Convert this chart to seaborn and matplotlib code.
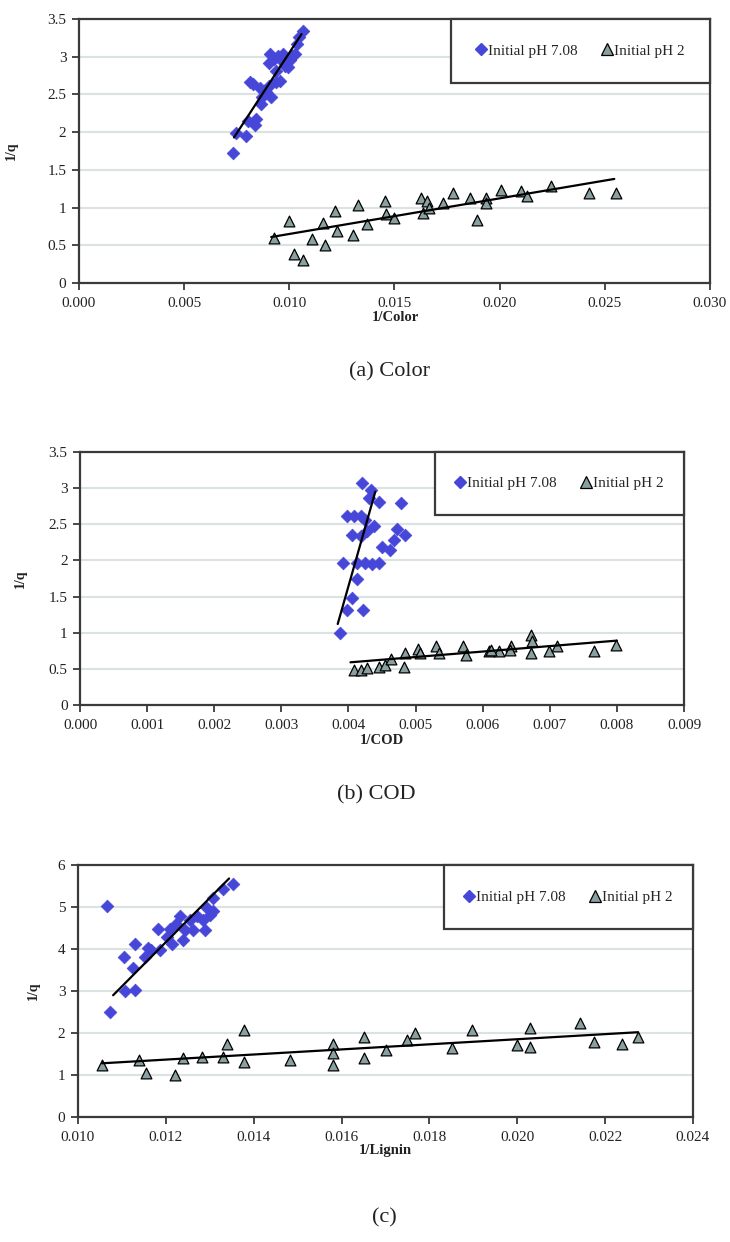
import numpy as np
import pandas as pd
import matplotlib
matplotlib.use("Agg")
import matplotlib.pyplot as plt
import seaborn as sns
from matplotlib.lines import Line2D
from matplotlib.patches import Rectangle

# ---------------- data ----------------
# (a) Color
a_hi_x = [0.0073, 0.00748, 0.00792, 0.00803, 0.00814, 0.00825, 0.00836, 0.00843, 0.00859, 0.00865,
          0.0088, 0.00903, 0.00914, 0.00903, 0.0091, 0.00925, 0.00936, 0.00947, 0.00958, 0.0097,
          0.0098, 0.00992, 0.01003, 0.01014, 0.01025, 0.01036, 0.01047, 0.01063, 0.00954, 0.00936,
          0.0089, 0.0087]
a_hi_y = [1.73, 1.99, 1.95, 2.15, 2.66, 2.64, 2.10, 2.17, 2.59, 2.37,
          2.55, 2.61, 2.46, 2.92, 3.03, 2.97, 2.81, 3.01, 2.97, 3.03,
          2.88, 2.86, 2.95, 3.01, 3.03, 3.17, 3.26, 3.34, 2.68, 2.66,
          2.53, 2.46]
a_lo_x = [0.00925, 0.00998, 0.0102, 0.01065, 0.0111, 0.01158, 0.0117, 0.01218, 0.01225, 0.01305,
          0.01325, 0.0137, 0.01453, 0.01458, 0.01498, 0.01624, 0.01635, 0.01653, 0.01664, 0.01731,
          0.0178, 0.01857, 0.0189, 0.01935, 0.01935, 0.02006, 0.02101, 0.0213, 0.02245, 0.02427,
          0.02552]
a_lo_y = [0.60, 0.82, 0.38, 0.31, 0.58, 0.80, 0.51, 0.95, 0.69, 0.64,
          1.04, 0.78, 1.09, 0.91, 0.86, 1.13, 0.93, 1.09, 1.00, 1.06,
          1.20, 1.13, 0.84, 1.13, 1.06, 1.24, 1.22, 1.15, 1.28, 1.20,
          1.20]
a_fit_hi_x = [0.00737, 0.01058]
a_fit_hi_y = [1.93, 3.30]
a_fit_lo_x = [0.00914, 0.02545]
a_fit_lo_y = [0.61, 1.38]

# (b) COD
b_hi_x = [0.004204, 0.004339, 0.004303, 0.004452, 0.004786, 0.00398, 0.00408, 0.00418, 0.00425, 0.00438,
          0.00406, 0.00418, 0.00428, 0.00473, 0.00484, 0.00468, 0.0045, 0.00462, 0.00392, 0.00413,
          0.00425, 0.00435, 0.00446, 0.00412, 0.00406, 0.00398, 0.00422, 0.00388]
b_hi_y = [3.07, 2.97, 2.86, 2.81, 2.79, 2.61, 2.61, 2.61, 2.56, 2.47,
          2.35, 2.34, 2.40, 2.44, 2.35, 2.28, 2.19, 2.15, 1.97, 1.96,
          1.96, 1.95, 1.97, 1.74, 1.48, 1.31, 1.31, 1.00]
b_lo_x = [0.00408, 0.00418, 0.00428, 0.00445, 0.00455, 0.00463, 0.00483, 0.00485, 0.00503, 0.00507,
          0.0053, 0.00535, 0.0057, 0.00575, 0.00609, 0.00624, 0.00642, 0.00672, 0.00674, 0.00672,
          0.00699, 0.00711, 0.00766, 0.00799, 0.0064, 0.00612]
b_lo_y = [0.49, 0.49, 0.51, 0.53, 0.55, 0.63, 0.53, 0.72, 0.78, 0.72,
          0.81, 0.72, 0.82, 0.69, 0.74, 0.74, 0.82, 0.97, 0.88, 0.72,
          0.74, 0.81, 0.74, 0.83, 0.76, 0.76]
b_fit_hi_x = [0.00384, 0.00440]
b_fit_hi_y = [1.12, 2.95]
b_fit_lo_x = [0.00403, 0.00800]
b_fit_lo_y = [0.59, 0.89]

# (c) Lignin
c_hi_x = [0.01065, 0.01073, 0.01107, 0.0113, 0.01105, 0.0113, 0.01126, 0.01152, 0.01167, 0.01183,
          0.01186, 0.01209, 0.01213, 0.01202, 0.01232, 0.0124, 0.01243, 0.01262, 0.0127, 0.01285,
          0.01292, 0.013, 0.01308, 0.01308, 0.0133, 0.01353, 0.01289, 0.01255, 0.0116, 0.01224]
c_hi_y = [5.02, 2.51, 3.01, 3.02, 3.80, 4.12, 3.54, 3.82, 3.98, 4.47,
          3.98, 4.47, 4.12, 4.29, 4.79, 4.21, 4.45, 4.45, 4.79, 4.69,
          5.01, 4.81, 4.91, 5.21, 5.42, 5.56, 4.45, 4.69, 4.02, 4.60]
c_lo_x = [0.01055, 0.01139, 0.01156, 0.01221, 0.0124, 0.01283, 0.0133, 0.01339, 0.01377, 0.01377,
          0.01483, 0.01581, 0.01581, 0.01581, 0.0165, 0.0165, 0.01702, 0.01749, 0.01768, 0.01851,
          0.01898, 0.0200, 0.02029, 0.02029, 0.02143, 0.02175, 0.02238, 0.02275]
c_lo_y = [1.24, 1.36, 1.06, 1.00, 1.40, 1.44, 1.44, 1.74, 2.07, 1.32,
          1.36, 1.75, 1.52, 1.24, 1.91, 1.40, 1.60, 1.83, 2.01, 1.64,
          2.07, 1.71, 2.11, 1.66, 2.23, 1.79, 1.74, 1.90]
c_fit_hi_x = [0.0108, 0.01344]
c_fit_hi_y = [2.90, 5.68]
c_fit_lo_x = [0.01055, 0.02275]
c_fit_lo_y = [1.28, 2.02]

series_labels = ["Initial pH 7.08", "Initial pH 2"]
x_labels = ["1/Color", "1/COD", "1/Lignin"]
captions = ["(a) Color", "(b) COD", "(c)"]
y_label = "1/q"

# ---------------- style ----------------
sns.set_theme(style="white")
plt.rcParams['font.family'] = ['Liberation Serif', 'DejaVu Serif']

BLUE = "#4646d8"
TRI = "#8aa0a0"
GRID = "#dbe2e2"
SPINE = "#3a3a3a"

fig = plt.figure(figsize=(7.3, 12.42), dpi=100)

panels = [
    dict(rect=[0.1082, 0.7721, 0.8644, 0.2126], hi=(a_hi_x, a_hi_y), lo=(a_lo_x, a_lo_y),
         fhi=(a_fit_hi_x, a_fit_hi_y), flo=(a_fit_lo_x, a_fit_lo_y),
         xlim=(0, 0.030), xt=np.arange(0, 0.0301, 0.005), xfmt="{:.3f}",
         ylim=(0, 3.5), yt=np.arange(0, 3.51, 0.5), yfmt="{:g}",
         leg=(0.59, 0.758), ylabx=-0.097, xlab=(0.541, 0.744), cap=(0.534, 0.7005)),
    dict(rect=[0.1096, 0.4324, 0.8274, 0.2037], hi=(b_hi_x, b_hi_y), lo=(b_lo_x, b_lo_y),
         fhi=(b_fit_hi_x, b_fit_hi_y), flo=(b_fit_lo_x, b_fit_lo_y),
         xlim=(0, 0.009), xt=np.arange(0, 0.00901, 0.001), xfmt="{:.3f}",
         ylim=(0, 3.5), yt=np.arange(0, 3.51, 0.5), yfmt="{:g}",
         leg=(0.588, 0.751), ylabx=-0.088, xlab=(0.523, 0.4034), cap=(0.516, 0.360)),
    dict(rect=[0.1068, 0.1006, 0.8425, 0.2029], hi=(c_hi_x, c_hi_y), lo=(c_lo_x, c_lo_y),
         fhi=(c_fit_hi_x, c_fit_hi_y), flo=(c_fit_lo_x, c_fit_lo_y),
         xlim=(0.010, 0.024), xt=np.arange(0.010, 0.02401, 0.002), xfmt="{:.3f}",
         ylim=(0, 6), yt=np.arange(0, 6.01, 1), yfmt="{:g}",
         leg=(0.595, 0.746), ylabx=-0.062, xlab=(0.528, 0.074), cap=(0.526, 0.0193)),
]

for i, p in enumerate(panels):
    ax = fig.add_axes(p["rect"])
    dhi = pd.DataFrame({"x": p["hi"][0], "y": p["hi"][1]})
    dlo = pd.DataFrame({"x": p["lo"][0], "y": p["lo"][1]})
    fhi = pd.DataFrame({"x": p["fhi"][0], "y": p["fhi"][1]})
    flo = pd.DataFrame({"x": p["flo"][0], "y": p["flo"][1]})

    sns.scatterplot(data=dlo, x="x", y="y", ax=ax, marker="^", s=60, color=TRI,
                    edgecolor="black", linewidth=0.9, zorder=3, legend=False)
    sns.scatterplot(data=dhi, x="x", y="y", ax=ax, marker="D", s=42, color=BLUE,
                    edgecolor=BLUE, linewidth=0.5, zorder=3, legend=False)
    sns.lineplot(data=flo, x="x", y="y", ax=ax, color="black", linewidth=1.6, zorder=4,
                 estimator=None, sort=False)
    sns.lineplot(data=fhi, x="x", y="y", ax=ax, color="black", linewidth=1.6, zorder=4,
                 estimator=None, sort=False)

    ax.set_xlim(*p["xlim"])
    ax.set_ylim(*p["ylim"])
    ax.set_xticks(p["xt"])
    ax.set_xticklabels([p["xfmt"].format(v) for v in p["xt"]])
    ax.set_yticks(p["yt"])
    ax.set_yticklabels([p["yfmt"].format(v) for v in p["yt"]])
    ax.yaxis.grid(True, color=GRID, linewidth=1.5, zorder=0)
    ax.xaxis.grid(False)
    ax.set_axisbelow(True)
    for s in ax.spines.values():
        s.set_color(SPINE)
        s.set_linewidth(1.6)
        s.set_visible(True)
    ax.tick_params(axis="both", which="major", direction="out", length=5, width=1.3,
                   color=SPINE, labelsize=11, labelcolor="#222222", pad=4,
                   bottom=True, left=True)
    ax.tick_params(axis="x", pad=5)
    ax.set_xlabel("")
    ax.set_ylabel(y_label, fontsize=10, fontweight="bold", color="#222222")
    ax.yaxis.set_label_coords(p["ylabx"], 0.5)

    # legend box
    x0, y0 = p["leg"]
    ax.add_patch(Rectangle((x0, y0), 1 - x0, 1 - y0, transform=ax.transAxes,
                           facecolor="white", edgecolor=SPINE, linewidth=1.6, zorder=5,
                           clip_on=False))
    handles = [Line2D([], [], marker="D", linestyle="none", markersize=6.5,
                      markerfacecolor=BLUE, markeredgecolor=BLUE),
               Line2D([], [], marker="^", linestyle="none", markersize=8,
                      markerfacecolor=TRI, markeredgecolor="black", markeredgewidth=0.9)]
    leg = ax.legend(handles, series_labels, loc="center",
                    bbox_to_anchor=((x0 + 1) / 2, (y0 + 1) / 2), ncol=2, frameon=False,
                    fontsize=11, handlelength=0.6, handletextpad=0.15, columnspacing=1.6,
                    borderpad=0)
    leg.set_zorder(6)

    fig.text(p["xlab"][0], p["xlab"][1], x_labels[i], ha="center", va="center",
             fontsize=10.5, fontweight="bold", color="#222222")
    fig.text(p["cap"][0], p["cap"][1], captions[i], ha="center", va="center",
             fontsize=16, color="#222222")

fig.savefig("out.png", dpi=100)
